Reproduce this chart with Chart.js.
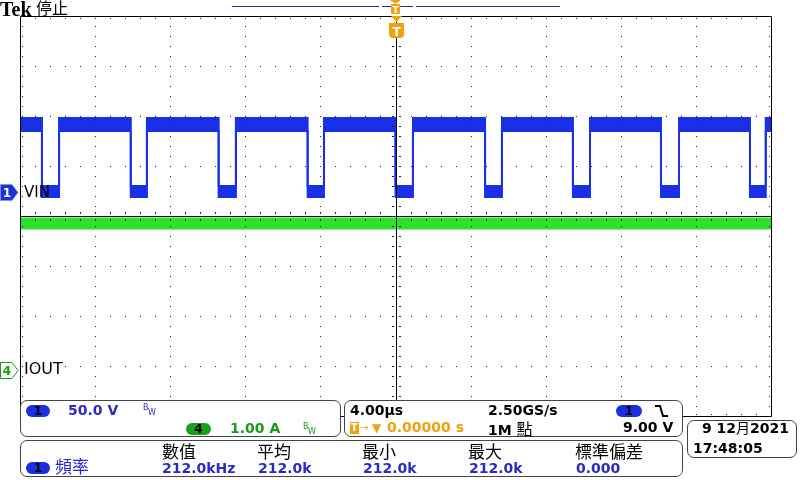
<!DOCTYPE html>
<html>
<head>
<meta charset="utf-8">
<script src="https://cdn.jsdelivr.net/npm/chart.js@4.4.0/dist/chart.umd.min.js"></script>
<style>
body { margin: 0; background: #fff; }
#wrap { position: relative; width: 800px; height: 480px; overflow: hidden; font-family: "DejaVu Sans", sans-serif; }
#wrap canvas { position: absolute; left: 0; top: 0; }
.t { position: absolute; white-space: nowrap; line-height: 1; }
.b { font-weight: bold; font-size: 14px; }
.cjk { font-family: "Noto Sans CJK TC", sans-serif; font-size: 17px; }
.panel { position: absolute; border: 1px solid #444; border-radius: 7px; background: #fff; box-sizing: border-box; }
.pill { position: absolute; border-radius: 6px; text-align: center; font: bold 12px "DejaVu Sans", sans-serif; line-height: 12px; color: #000; }
.blue { color: #2a2ac8; }
.green { color: #1a9a1a; }
.orange { color: #f0a010; }
.bw { position: absolute; font: 8px "DejaVu Sans", sans-serif; line-height: 1; }
</style>
</head>
<body>
<div id="wrap">
  <canvas id="scope" width="800" height="480"></canvas>

  <!-- 顶部状态 -->
  <div class="t" style="left:0;top:-2px;font:bold 20px 'Liberation Serif',serif;">Tek</div>
  <div class="t" style="left:36px;top:-1px;font-family:'Noto Sans CJK TC',sans-serif;font-size:16px;">停止</div>
  <div style="position:absolute;left:232px;top:6px;width:147px;height:1px;background:#2a2a8a;"></div>
  <div style="position:absolute;left:382px;top:6px;width:31px;height:1px;background:#2a2a8a;"></div>
  <div style="position:absolute;left:416px;top:6px;width:144px;height:1px;background:#2a2a8a;"></div>
  <svg style="position:absolute;left:390px;top:0;" width="12" height="16">
    <polygon points="0,0 11,0 5.5,4" fill="#f0a010"/>
    <rect x="1" y="4" width="9" height="10" rx="1" fill="#f0a010"/>
    <text x="5.5" y="12.5" font-size="9" font-weight="bold" font-family="DejaVu Sans" fill="#fff" text-anchor="middle">T</text>
  </svg>
  <svg style="position:absolute;left:388px;top:16px;" width="17" height="24">
    <polygon points="3,0 14,0 8.5,6" fill="#f0a010"/>
    <path d="M1,7 H16 V18 Q16,22 12,22 H5 Q1,22 1,18 Z" fill="#f0a010"/>
    <text x="8.5" y="19.5" font-size="12" font-weight="bold" font-family="DejaVu Sans" fill="#fff" text-anchor="middle">T</text>
  </svg>

  <!-- 通道标记 -->
  <svg style="position:absolute;left:0;top:184px;" width="20" height="17">
    <path d="M0.5,0.5 H12 L18,8.5 L12,16.5 H0.5 Z" fill="#1a30e0" stroke="#8090ff" stroke-width="1"/>
    <text x="7" y="13" font-size="12" font-weight="bold" font-family="DejaVu Sans" fill="#fff" text-anchor="middle">1</text>
  </svg>
  <div class="t" style="left:24px;top:185px;font-size:15px;">VIN</div>
  <svg style="position:absolute;left:0;top:362px;" width="20" height="17">
    <path d="M0.5,0.5 H12 L18,8.5 L12,16.5 H0.5 Z" fill="#fff" stroke="#1a9a1a" stroke-width="1"/>
    <text x="7" y="13" font-size="12" font-weight="bold" font-family="DejaVu Sans" fill="#1a9a1a" text-anchor="middle">4</text>
  </svg>
  <div class="t" style="left:24px;top:361px;font-size:16px;">IOUT</div>

  <!-- 垂直设置 -->
  <div class="panel" style="left:20px;top:400px;width:321px;height:37px;"></div>
  <div class="pill" style="left:26px;top:405px;width:24px;height:12px;background:#1a30e0;">1</div>
  <div class="t b blue" style="left:68px;top:403px;">50.0 V</div>
  <div class="bw blue" style="left:143px;top:404px;">B</div>
  <div class="bw blue" style="left:148px;top:409px;">W</div>
  <div class="pill" style="left:186px;top:423px;width:25px;height:12px;background:#1aa01a;">4</div>
  <div class="t b green" style="left:230px;top:421px;">1.00 A</div>
  <div class="bw green" style="left:303px;top:423px;">B</div>
  <div class="bw green" style="left:308px;top:428px;">W</div>

  <!-- 水平与触发设置 -->
  <div class="panel" style="left:344px;top:400px;width:339px;height:37px;"></div>
  <div class="t b" style="left:350px;top:403px;">4.00µs</div>
  <div class="t b" style="left:488px;top:403px;">2.50GS/s</div>
  <div class="pill" style="left:616px;top:405px;width:26px;height:12px;background:#1a30e0;">1</div>
  <svg style="position:absolute;left:654px;top:404px;" width="15" height="15">
    <polyline points="1,2 6,2 9,12 14,12" fill="none" stroke="#000" stroke-width="2"/>
  </svg>
  <div style="position:absolute;left:350px;top:422px;width:9px;height:12px;background:#f0a010;color:#fff;font:bold 10px 'DejaVu Sans';text-align:center;line-height:12px;">T</div>
  <div class="t orange" style="left:360px;top:423px;font-size:10px;">→</div>
  <div class="t orange" style="left:372px;top:422px;font-size:12px;">▼</div>
  <div class="t b orange" style="left:387px;top:420px;">0.00000 s</div>
  <div class="t b" style="left:488px;top:420px;">1M <span style="font-family:'Noto Sans CJK TC',sans-serif;font-weight:normal;font-size:16px;">點</span></div>
  <div class="t b" style="left:623px;top:420px;">9.00 V</div>

  <!-- 日期时间 -->
  <div class="panel" style="left:687px;top:420px;width:110px;height:38px;"></div>
  <div class="t b" style="left:702px;top:420px;">9 12<span style="font-family:'Noto Sans CJK TC',sans-serif;font-weight:normal;">月</span>2021</div>
  <div class="t b" style="left:693px;top:441px;">17:48:05</div>

  <!-- 测量 -->
  <div class="panel" style="left:20px;top:440px;width:663px;height:37px;"></div>
  <div class="pill" style="left:26px;top:462px;width:24px;height:12px;background:#1a30e0;">1</div>
  <div class="t cjk blue" style="left:55px;top:457px;">頻率</div>
  <div class="t cjk" style="left:162px;top:442px;">數值</div>
  <div class="t cjk" style="left:257px;top:442px;">平均</div>
  <div class="t cjk" style="left:362px;top:442px;">最小</div>
  <div class="t cjk" style="left:468px;top:442px;">最大</div>
  <div class="t cjk" style="left:575px;top:442px;">標準偏差</div>
  <div class="t b blue" style="left:162px;top:461px;">212.0kHz</div>
  <div class="t b blue" style="left:258px;top:461px;">212.0k</div>
  <div class="t b blue" style="left:363px;top:461px;">212.0k</div>
  <div class="t b blue" style="left:469px;top:461px;">212.0k</div>
  <div class="t b blue" style="left:576px;top:461px;">0.000</div>
</div>

<script>
// 时间轴 (µs)，4.00µs/div，触发点在中间
const timeMin = -20;
const timeMax = 20;

// CH1 VIN 下降沿 / 上升沿时刻 (µs)
const fallTimes = [-18.83, -14.10, -9.42, -4.68, 0.0, 4.77, 9.45, 14.14, 18.88];
const riseTimes = [-17.92, -13.24, -8.50, -3.81, 0.93, 5.67, 10.36, 15.10, 19.72];

// CH1 电平带 (V)：高电平上沿/下沿，低电平上沿/下沿
const vinHighTop = 74;
const vinHighBottom = 61;
const vinLowTop = 6;
const vinLowBottom = -5;

// CH4 IOUT 电流带 (A)
const ioutTop = 3.04;
const ioutBottom = 2.82;

// 通道刻度：CH1 50V/div 零点偏移，CH4 1A/div 零点偏移
const vinRange = [-224, 176];
const ioutRange = [-0.92, 7.08];

// 根据边沿时刻生成方波包络
function vinEnvelope(high, low) {
    const pts = [{ x: timeMin, y: high }];
    fallTimes.forEach((f, i) => {
        const r = riseTimes[i];
        pts.push({ x: f, y: high }, { x: f, y: low }, { x: r, y: low }, { x: r, y: high });
    });
    pts.push({ x: timeMax, y: high });
    return pts;
}

// 示波器格线：点状网格 + 中心十字 + 边框刻度
const graticule = {
    id: 'graticule',
    afterDatasetsDraw(chart) {
        const { ctx, chartArea: a, scales } = chart;
        const xs = scales.x;
        const ys = scales.yDiv;
        const dot = (x, y) => ctx.fillRect(Math.round(x), Math.round(y), 1, 1);
        ctx.save();
        ctx.fillStyle = '#222';

        // 垂直网格线上的点
        for (let i = 1; i < 10; i++) {
            const px = xs.getPixelForValue(timeMin + i * 4);
            for (let j = 0; j <= 40; j++) dot(px, ys.getPixelForValue(-4 + j * 0.2));
        }
        // 水平网格线上的点
        for (let i = 1; i < 8; i++) {
            const py = ys.getPixelForValue(-4 + i);
            for (let j = 0; j <= 50; j++) dot(xs.getPixelForValue(timeMin + j * 0.8), py);
        }

        // 中心十字
        const cx = Math.round(xs.getPixelForValue(0)) + 0.5;
        const cy = Math.round(ys.getPixelForValue(0)) + 0.5;
        ctx.strokeStyle = '#000';
        ctx.lineWidth = 1;
        ctx.beginPath();
        ctx.moveTo(cx, a.top); ctx.lineTo(cx, a.bottom);
        ctx.moveTo(a.left, cy); ctx.lineTo(a.right, cy);
        ctx.stroke();
        for (let j = 0; j <= 40; j++) {
            const py = Math.round(ys.getPixelForValue(-4 + j * 0.2));
            ctx.fillRect(cx - 4.5, py, 2, 1);
            ctx.fillRect(cx + 2.5, py, 2, 1);
        }
        for (let j = 0; j <= 50; j++) {
            const px = Math.round(xs.getPixelForValue(timeMin + j * 0.8));
            ctx.fillRect(px, cy - 4.5, 1, 2);
            ctx.fillRect(px, cy + 2.5, 1, 2);
        }

        // 边框及内侧刻度
        const l = Math.round(a.left) + 0.5, r = Math.round(a.right) + 0.5;
        const t = Math.round(a.top) + 0.5, b = Math.round(a.bottom) + 0.5;
        ctx.beginPath();
        ctx.moveTo(l, t); ctx.lineTo(r, t); ctx.lineTo(r, b); ctx.lineTo(l, b); ctx.closePath();
        ctx.stroke();
        for (let j = 0; j <= 40; j++) {
            const py = ys.getPixelForValue(-4 + j * 0.2);
            dot(l + 1.5, py);
            dot(r - 2.5, py);
        }
        for (let j = 0; j <= 50; j++) {
            const px = xs.getPixelForValue(timeMin + j * 0.8);
            dot(px, t + 1.5);
            dot(px, b - 2.5);
        }
        ctx.restore();
    }
};

const vinColor = '#1a30e6';
const ioutColor = '#2ee02e';

new Chart(document.getElementById('scope'), {
    type: 'line',
    data: {
        datasets: [{
            label: 'VIN top',
            data: vinEnvelope(vinHighTop, vinLowTop),
            yAxisID: 'yV',
            borderColor: vinColor,
            borderWidth: 2,
            pointRadius: 0,
            fill: false
        }, {
            label: 'VIN bottom',
            data: vinEnvelope(vinHighBottom, vinLowBottom),
            yAxisID: 'yV',
            borderColor: vinColor,
            backgroundColor: vinColor,
            borderWidth: 2,
            pointRadius: 0,
            fill: '-1'
        }, {
            label: 'IOUT top',
            data: [{ x: timeMin, y: ioutTop }, { x: timeMax, y: ioutTop }],
            yAxisID: 'yA',
            borderColor: ioutColor,
            borderWidth: 1,
            pointRadius: 0,
            fill: false
        }, {
            label: 'IOUT bottom',
            data: [{ x: timeMin, y: ioutBottom }, { x: timeMax, y: ioutBottom }],
            yAxisID: 'yA',
            borderColor: ioutColor,
            backgroundColor: ioutColor,
            borderWidth: 1,
            pointRadius: 0,
            fill: '-1'
        }]
    },
    options: {
        responsive: false,
        animation: false,
        events: [],
        layout: { padding: { left: 20, top: 16, right: 29, bottom: 64 } },
        elements: { line: { tension: 0 } },
        scales: {
            x: { type: 'linear', min: timeMin, max: timeMax, display: false },
            yV: { min: vinRange[0], max: vinRange[1], display: false },
            yA: { min: ioutRange[0], max: ioutRange[1], display: false },
            yDiv: { min: -4, max: 4, display: false }
        },
        plugins: {
            legend: { display: false },
            tooltip: { enabled: false }
        }
    },
    plugins: [graticule]
});
</script>
</body>
</html>
